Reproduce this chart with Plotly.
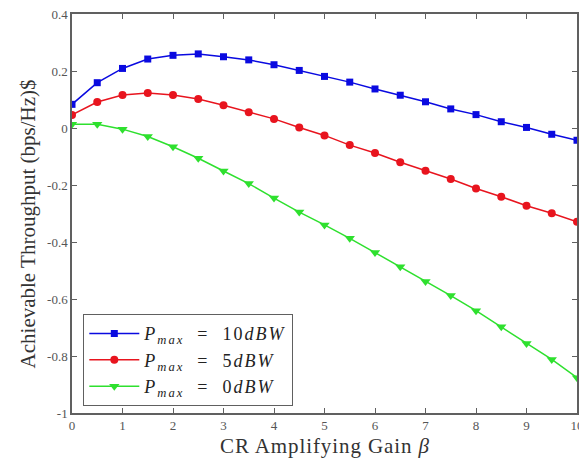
import plotly.graph_objects as go

beta = [0, 0.5, 1, 1.5, 2, 2.5, 3, 3.5, 4, 4.5, 5, 5.5, 6, 6.5, 7, 7.5, 8, 8.5, 9, 9.5, 10]
p10 = [0.083, 0.159, 0.209, 0.242, 0.255, 0.260, 0.250, 0.239, 0.222, 0.202, 0.181,
       0.161, 0.137, 0.115, 0.092, 0.067, 0.047, 0.022, 0.002, -0.022, -0.043]
p5 = [0.046, 0.091, 0.116, 0.123, 0.116, 0.102, 0.080, 0.055, 0.032, 0.002, -0.026,
      -0.060, -0.088, -0.120, -0.150, -0.179, -0.212, -0.241, -0.273, -0.299, -0.329]
p0 = [0.013, 0.013, -0.004, -0.030, -0.066, -0.106, -0.151, -0.195, -0.246, -0.295, -0.340,
      -0.387, -0.437, -0.487, -0.539, -0.588, -0.641, -0.697, -0.756, -0.812, -0.876]

names = ["<i>P</i><sub><i>max</i></sub>&nbsp;&nbsp;=&nbsp;&nbsp;10<i>dBW</i>",
         "<i>P</i><sub><i>max</i></sub>&nbsp;&nbsp;=&nbsp;&nbsp;5<i>dBW</i>",
         "<i>P</i><sub><i>max</i></sub>&nbsp;&nbsp;=&nbsp;&nbsp;0<i>dBW</i>"]
colors = ["#0a0ae0", "#e8141e", "#2ee02e"]
symbols = ["square", "circle", "triangle-down"]
sizes = [7, 8, 9]

y_ticks = [0.4, 0.2, 0, -0.2, -0.4, -0.6, -0.8, -1]
y_labels = ["0.4", "0.2", "0", "-0.2", "-0.4", "-0.6", "-0.8", "-1"]
x_ticks = list(range(0, 11))
x_title = "CR Amplifying Gain <i>β</i>"

fig = go.Figure()
for ys, nm, c, s, sz in zip([p10, p5, p0], names, colors, symbols, sizes):
    fig.add_trace(go.Scatter(x=beta, y=ys, mode="lines+markers",
                             name="<span style=\"letter-spacing:2px\">" + nm + "</span>",
                             line=dict(color=c, width=1.5),
                             marker=dict(symbol=s, size=sz, color=c)))

serif = "Liberation Serif"
axis_common = dict(showline=True, linecolor="#606060", linewidth=1.5, mirror="ticks",
                   ticks="inside", ticklen=5, tickcolor="#606060", showgrid=False,
                   zeroline=False, automargin=False, ticklabeloverflow="allow",
                   tickfont=dict(family=serif, size=13, color="#555"))
fig.update_xaxes(range=[0, 10], tickvals=x_ticks, **axis_common)
fig.update_yaxes(range=[-1, 0.4], tickvals=y_ticks, ticktext=y_labels, **axis_common,
                 title=dict(text="Achievable Throughput (bps/Hz)$&nbsp;&nbsp;&nbsp;&nbsp;",
                            font=dict(family=serif, size=21, color="#333"), standoff=6))

# x-axis title as a paper annotation placed below the tick labels
fig.add_annotation(text="<span style=\"letter-spacing:0.9px\">" + x_title + "</span>",
                   xref="paper", yref="paper", x=0.5, y=0, xanchor="center", yanchor="middle",
                   yshift=-33, showarrow=False, font=dict(family=serif, size=21, color="#333"))

# page body has an 8px margin; size/margins compensate so the plot area lands as in the reference
fig.update_layout(width=579, height=454, margin=dict(l=64, r=10, t=6, b=49),
                  plot_bgcolor="white", paper_bgcolor="white",
                  legend=dict(x=0.022, y=0.248, xanchor="left", yanchor="top",
                              bordercolor="#606060", borderwidth=1.2, bgcolor="white",
                              font=dict(family=serif, size=18, color="#222"),
                              tracegroupgap=0, itemwidth=50))
fig.write_html("out.html")
